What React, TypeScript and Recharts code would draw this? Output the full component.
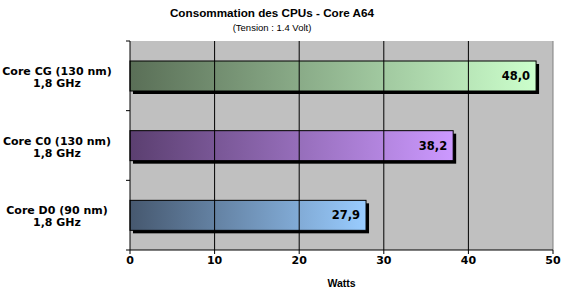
import { Bar, BarChart, CartesianGrid, Cell, LabelList, ReferenceLine, XAxis, YAxis } from "recharts"

// Consommation mesurée, en watts
const cores = ["Core CG (130 nm)", "Core C0 (130 nm)", "Core D0 (90 nm)"]
const freqs = ["1,8 GHz", "1,8 GHz", "1,8 GHz"]
const watts = [48.0, 38.2, 27.9]
const xTicks = [0, 10, 20, 30, 40, 50]

const gradients = [
  { id: "gCG", from: "#5a6f57", to: "#ccffcc" },
  { id: "gC0", from: "#5b3f70", to: "#cc99ff" },
  { id: "gD0", from: "#46586f", to: "#99ccff" },
]

const data = cores.map((name, i) => ({ name, freq: freqs[i], watts: watts[i] }))

const font = "Verdana, 'DejaVu Sans', sans-serif"

function ShadowBar(props: any) {
  const { x, y, width, height, fill } = props
  if (!width || width <= 0) return null
  return (
    <g>
      <rect x={x + 3} y={y + 3} width={width} height={height} fill="#000" />
      <rect x={x} y={y} width={width} height={height} fill={fill} stroke="#000" strokeWidth={1} />
    </g>
  )
}

function CoreTick(props: any) {
  const { x, y, payload, index } = props
  const row = data[index] ?? data.find((d) => d.name === payload.value)
  const half = payload.offset ?? 34.8
  const ax = x + 8
  return (
    <g>
      <line x1={ax - 4} x2={ax} y1={y - half} y2={y - half} stroke="#000" />
      {index === data.length - 1 && <line x1={ax - 4} x2={ax} y1={y + half} y2={y + half} stroke="#000" />}
      <text x={57} y={y - 1} textAnchor="middle" fontFamily={font} fontWeight="bold" fontSize={11} fill="#000">
        {payload.value}
      </text>
      <text x={57} y={y + 11} textAnchor="middle" fontFamily={font} fontWeight="bold" fontSize={11} fill="#000">
        {row ? row.freq : ""}
      </text>
    </g>
  )
}

export default function App() {
  return (
    <div style={{ position: "absolute", left: 0, top: 0, width: 571, height: 290, background: "#fff" }}>
      <svg width={571} height={40} style={{ position: "absolute", left: 0, top: 0 }}>
        <text x={272} y={17} textAnchor="middle" fontFamily="'Liberation Sans', Arial, sans-serif" fontWeight="bold" fontSize={11.7} fill="#000">
          Consommation des CPUs - Core A64
        </text>
        <text x={272} y={31} textAnchor="middle" fontFamily="'Liberation Sans', Arial, sans-serif" fontSize={9.5} fill="#000">
          (Tension : 1.4 Volt)
        </text>
      </svg>
      <div style={{ position: "absolute", left: 0, top: 0 }}>
        <BarChart
          width={571}
          height={290}
          data={data}
          layout="vertical"
          margin={{ top: 41, right: 18, bottom: 0, left: 0 }}
          barCategoryGap={0}
        >
          <defs>
            {gradients.map((g) => (
              <linearGradient key={g.id} id={g.id} x1="0" y1="0" x2="1" y2="0">
                <stop offset="0%" stopColor={g.from} />
                <stop offset="100%" stopColor={g.to} />
              </linearGradient>
            ))}
          </defs>
          <CartesianGrid horizontal={false} vertical={false} fill="#c0c0c0" stroke="none" />
          <XAxis
            type="number"
            domain={[0, 50]}
            ticks={xTicks}
            interval={0}
            axisLine={{ stroke: "#000" }}
            tickLine={{ stroke: "#000" }}
            tickSize={4}
            tick={{ fill: "#000", fontFamily: font, fontWeight: "bold", fontSize: 11 }}
            height={40}
            label={{ value: "Watts", position: "insideBottom", offset: 3, fill: "#000", fontFamily: "'Liberation Sans', Arial, sans-serif", fontWeight: "bold", fontSize: 10.5 }}
          />
          <YAxis
            type="category"
            dataKey="name"
            width={130}
            axisLine={{ stroke: "#000" }}
            tickLine={false}
            tick={<CoreTick />}
          />
          {xTicks.slice(1, -1).map((t) => (
            <ReferenceLine key={t} x={t} stroke="#000" strokeWidth={1} />
          ))}
          <ReferenceLine x={50} stroke="#808080" strokeWidth={1} />
          <Bar dataKey="watts" barSize={30} shape={<ShadowBar />} isAnimationActive={false}>
            {gradients.map((g) => (
              <Cell key={g.id} fill={`url(#${g.id})`} />
            ))}
            <LabelList
              dataKey="watts"
              position="insideRight"
              offset={6}
              formatter={(v: any) => Number(v).toFixed(1).replace(".", ",")}
              style={{ fill: "#000", fontFamily: font, fontWeight: "bold", fontSize: 11.5 }}
            />
          </Bar>
        </BarChart>
      </div>
    </div>
  )
}
